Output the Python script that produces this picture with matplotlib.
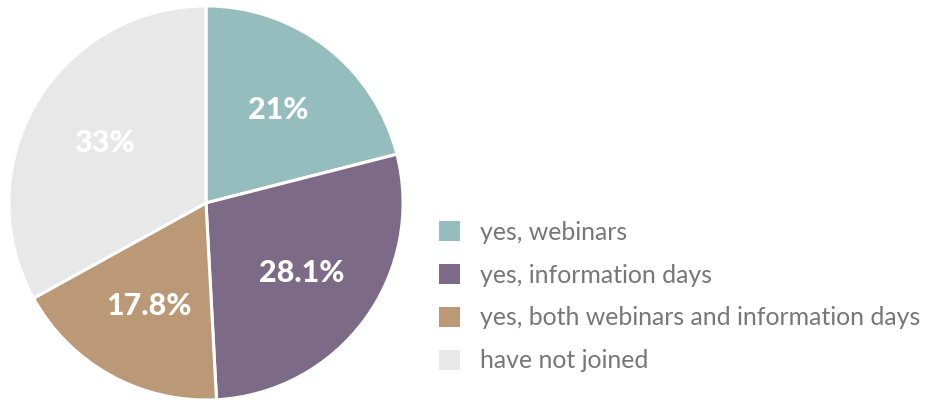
import numpy as np
import matplotlib.pyplot as plt
from matplotlib.patches import Patch

# data
labels = ["yes, webinars", "yes, information days",
          "yes, both webinars and information days", "have not joined"]
values = [21, 28.1, 17.8, 33]
pct_text = ["21%", "28.1%", "17.8%", "33%"]
colors = ["#96bdbe", "#7d6a86", "#bb9876", "#e7e8e7"]

plt.rcParams['font.family'] = ['Lato', 'DejaVu Sans']

fig = plt.figure(figsize=(9.3, 4.05), dpi=100)
ax = fig.add_axes([0.0075, 0.0074, 0.428, 0.983])

wedges, texts = ax.pie(values, colors=colors, startangle=90, counterclock=False,
                       wedgeprops=dict(edgecolor="white", linewidth=2.2))
ax.set_xlim(-1.01, 1.01)
ax.set_ylim(-1.01, 1.01)
ax.set_aspect("equal")

# percentage labels inside slices
for w, t in zip(wedges, pct_text):
    ang = np.deg2rad((w.theta1 + w.theta2) / 2)
    ax.text(0.6 * np.cos(ang), 0.6 * np.sin(ang), t, ha="center", va="center",
            color="white", fontsize=22, fontweight="black")

handles = [Patch(facecolor=c, edgecolor="none") for c in colors]
fig.legend(handles, labels, loc="center left", bbox_to_anchor=(0.448, 0.268),
           frameon=False, fontsize=17.9, labelcolor="#777777",
           handlelength=0.85, handleheight=0.85, handletextpad=0.8,
           labelspacing=0.8)

fig.savefig("out.png", dpi=100)
